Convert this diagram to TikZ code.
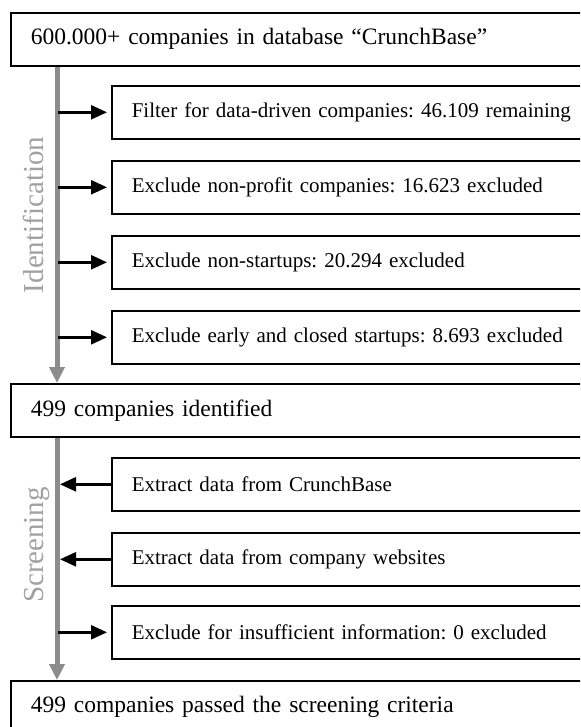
\documentclass[tikz,border=0pt]{standalone}
\usepackage{fontspec}
\setmainfont{Liberation Serif}
\usepackage{tikz}
\usetikzlibrary{arrows.meta,positioning}
\definecolor{flowgrey}{rgb}{0.55, 0.55, 0.55}
\definecolor{phasegrey}{rgb}{0.63, 0.63, 0.63}
\frenchspacing

\begin{document}
\begin{tikzpicture}[x=1pt,y=-1pt,
    stagebox/.style={draw,line width=1.6pt,anchor=north west,minimum height=53pt,
        text width=580pt,inner xsep=20pt,align=left,font=\fontsize{23.5}{28}\selectfont},
    stepbox/.style={draw,line width=1.6pt,anchor=north west,minimum height=53pt,
        text width=480pt,inner xsep=20pt,align=left,font=\fontsize{21}{25}\selectfont},
    flow/.style={flowgrey,line width=5pt,-{Triangle[length=16pt,width=15pt]}},
    into/.style={line width=2.5pt,-{Triangle[length=16pt,width=14pt]}},
    phase/.style={phasegrey,rotate=90,anchor=base,font=\fontsize{29}{32}\selectfont}]
    \clip (0,0) rectangle (580,727);
    \coordinate (spine) at (57,0);

    \node[stagebox] (crunch) at (10,12) {600.000+ companies in database “CrunchBase”};
    \node[stepbox] (datadriven) at (111,85) {Filter for data-driven companies: 46.109 remaining};
    \node[stepbox] (nonprofit) at (111,160) {Exclude non-profit companies: 16.623 excluded};
    \node[stepbox] (nonstartup) at (111,235) {Exclude non-startups: 20.294 excluded};
    \node[stepbox] (earlyclosed) at (111,310) {Exclude early and closed startups: 8.693 excluded};
    \node[stagebox] (identified) at (10,383) {499 companies identified};
    \node[stepbox] (crunchdata) at (111,457) {Extract data from CrunchBase};
    \node[stepbox] (websites) at (111,532) {Extract data from company websites};
    \node[stepbox] (insufficient) at (111,605) {Exclude for insufficient information: 0 excluded};
    \node[stagebox] (passed) at (10,680) {499 companies passed the screening criteria};

    \node[phase] (identlabel) at (43,215) {Identification};
    \node[phase] (screenlabel) at (43,545) {Screening};

    \draw[flow] (crunch.south -| spine) -- (identified.north -| spine);
    \draw[flow] (identified.south -| spine) -- (passed.north -| spine);

    \foreach \b in {datadriven,nonprofit,nonstartup,earlyclosed,insufficient}
        \draw[into,shorten <=1pt,shorten >=4pt] (\b.west -| spine) -- (\b.west);
    \foreach \b in {crunchdata,websites}
        \draw[into,shorten >=3pt] (\b.west) -- (\b.west -| spine);
\end{tikzpicture}
\end{document}
